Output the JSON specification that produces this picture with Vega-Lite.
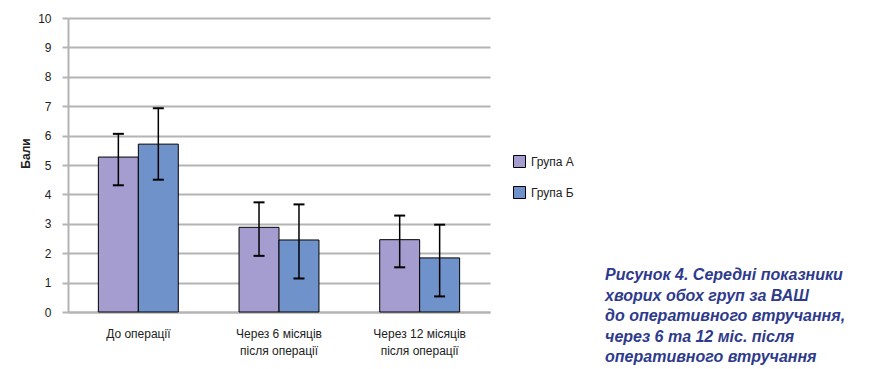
{
  "$schema": "https://vega.github.io/schema/vega-lite/v6.json",
  "width": 422,
  "height": 294,
  "autosize": {"type": "none"},
  "padding": {"left": 68, "top": 18, "right": 393, "bottom": 57},
  "background": "white",
  "config": {
    "font": "Liberation Sans",
    "view": {"stroke": null}
  },
  "title": {
    "text": ["Рисунок 4. Середні показники", "хворих обох груп за ВАШ", "до оперативного втручання,", "через 6 та 12 міс. після", "оперативного втручання"],
    "orient": "right",
    "anchor": "middle",
    "angle": 0,
    "align": "left",
    "baseline": "top",
    "frame": "group",
    "offset": -209,
    "dy": 102,
    "fontSize": 16,
    "fontStyle": "italic",
    "fontWeight": "bold",
    "color": "#2e3a8c",
    "lineHeight": 20.5
  },
  "data": {
    "values": [
      {"period": "До операції", "group": "Група А", "mean": 5.27, "low": 4.31, "high": 6.06},
      {"period": "До операції", "group": "Група Б", "mean": 5.71, "low": 4.5, "high": 6.93},
      {"period": "Через 6 місяців після операції", "group": "Група А", "mean": 2.88, "low": 1.91, "high": 3.73},
      {"period": "Через 6 місяців після операції", "group": "Група Б", "mean": 2.45, "low": 1.14, "high": 3.66},
      {"period": "Через 12 місяців після операції", "group": "Група А", "mean": 2.46, "low": 1.52, "high": 3.28},
      {"period": "Через 12 місяців після операції", "group": "Група Б", "mean": 1.84, "low": 0.53, "high": 2.97}
    ]
  },
  "encoding": {
    "x": {
      "field": "period",
      "type": "nominal",
      "sort": null,
      "scale": {
        "domain": ["До операції", "Через 6 місяців після операції", "Через 12 місяців після операції"],
        "paddingInner": 0,
        "paddingOuter": 0
      },
      "axis": {
        "title": null,
        "domain": true,
        "domainColor": "#b4b4b4",
        "domainWidth": 2,
        "grid": false,
        "ticks": false,
        "labelFontSize": 12,
        "labelColor": "#222222",
        "labelPadding": 16,
        "labelAngle": 0,
        "labelLineHeight": 17,
        "labelExpr": "indexof(datum.value, ' після') > 0 ? [substring(datum.value, 0, indexof(datum.value, ' після')), 'після операції'] : datum.value"
      }
    },
    "xOffset": {
      "field": "group",
      "type": "nominal",
      "scale": {"domain": ["Група А", "Група Б"], "paddingInner": 0, "paddingOuter": 0.76}
    }
  },
  "layer": [
    {
      "mark": {"type": "bar", "stroke": "black", "strokeWidth": 1},
      "encoding": {
        "y": {
          "field": "mean",
          "type": "quantitative",
          "title": "Бали",
          "scale": {"domain": [0, 10], "nice": false},
          "axis": {
            "title": "Бали",
            "values": [0, 1, 2, 3, 4, 5, 6, 7, 8, 9, 10],
            "grid": true,
            "gridColor": "#b4b4b4",
            "gridWidth": 2,
            "domain": true,
            "domainColor": "#b4b4b4",
            "domainWidth": 2,
            "ticks": true,
            "tickSize": 6,
            "tickColor": "#b4b4b4",
            "tickWidth": 2,
            "labelFontSize": 12,
            "labelColor": "#222222",
            "labelPadding": 11,
            "titleFontSize": 12,
            "titleFontWeight": "bold",
            "titleColor": "#222222",
            "titleX": -43,
            "titleY": 135,
            "titleBaseline": "middle"
          }
        },
        "color": {
          "field": "group",
          "type": "nominal",
          "scale": {"domain": ["Група А", "Група Б"], "range": ["#a59dcf", "#7092cb"]},
          "legend": {
            "title": null,
            "orient": "none",
            "legendX": 445,
            "legendY": 137,
            "padding": 0,
            "symbolType": "square",
            "symbolSize": 144,
            "symbolStrokeColor": "black",
            "symbolStrokeWidth": 1,
            "labelFontSize": 12,
            "labelColor": "#222222",
            "labelOffset": 5,
            "rowPadding": 14
          }
        }
      }
    },
    {
      "mark": {"type": "rule", "color": "black", "strokeWidth": 1.5},
      "encoding": {
        "y": {
          "field": "low",
          "type": "quantitative",
          "title": "Бали",
          "axis": {
            "title": "Бали",
            "values": [0, 1, 2, 3, 4, 5, 6, 7, 8, 9, 10],
            "grid": true,
            "gridColor": "#b4b4b4",
            "gridWidth": 2,
            "domain": true,
            "domainColor": "#b4b4b4",
            "domainWidth": 2,
            "ticks": true,
            "tickSize": 6,
            "tickColor": "#b4b4b4",
            "tickWidth": 2,
            "labelFontSize": 12,
            "labelColor": "#222222",
            "labelPadding": 11,
            "titleFontSize": 12,
            "titleFontWeight": "bold",
            "titleColor": "#222222",
            "titleX": -43,
            "titleY": 135,
            "titleBaseline": "middle"
          }
        },
        "y2": {"field": "high"}
      }
    },
    {
      "mark": {"type": "tick", "color": "black", "thickness": 2, "size": 11, "opacity": 1},
      "encoding": {
        "y": {
          "field": "low",
          "type": "quantitative",
          "title": "Бали",
          "axis": {
            "title": "Бали",
            "values": [0, 1, 2, 3, 4, 5, 6, 7, 8, 9, 10],
            "grid": true,
            "gridColor": "#b4b4b4",
            "gridWidth": 2,
            "domain": true,
            "domainColor": "#b4b4b4",
            "domainWidth": 2,
            "ticks": true,
            "tickSize": 6,
            "tickColor": "#b4b4b4",
            "tickWidth": 2,
            "labelFontSize": 12,
            "labelColor": "#222222",
            "labelPadding": 11,
            "titleFontSize": 12,
            "titleFontWeight": "bold",
            "titleColor": "#222222",
            "titleX": -43,
            "titleY": 135,
            "titleBaseline": "middle"
          }
        }
      }
    },
    {
      "mark": {"type": "tick", "color": "black", "thickness": 2, "size": 11, "opacity": 1},
      "encoding": {
        "y": {
          "field": "high",
          "type": "quantitative",
          "title": "Бали",
          "axis": {
            "title": "Бали",
            "values": [0, 1, 2, 3, 4, 5, 6, 7, 8, 9, 10],
            "grid": true,
            "gridColor": "#b4b4b4",
            "gridWidth": 2,
            "domain": true,
            "domainColor": "#b4b4b4",
            "domainWidth": 2,
            "ticks": true,
            "tickSize": 6,
            "tickColor": "#b4b4b4",
            "tickWidth": 2,
            "labelFontSize": 12,
            "labelColor": "#222222",
            "labelPadding": 11,
            "titleFontSize": 12,
            "titleFontWeight": "bold",
            "titleColor": "#222222",
            "titleX": -43,
            "titleY": 135,
            "titleBaseline": "middle"
          }
        }
      }
    }
  ]
}
